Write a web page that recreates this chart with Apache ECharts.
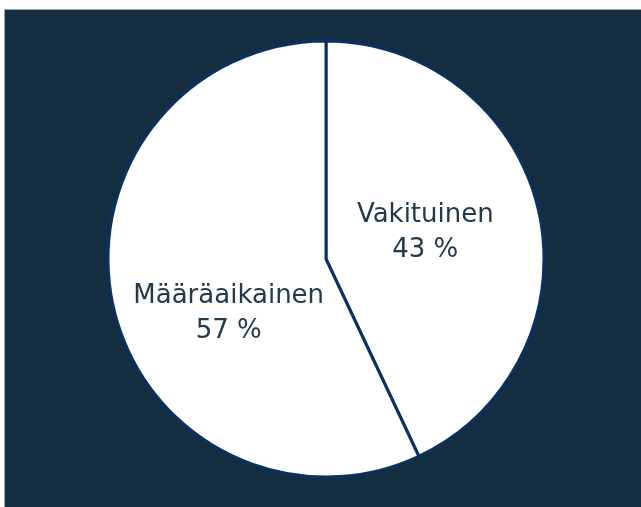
<!DOCTYPE html>
<html>
<head>
<meta charset="utf-8">
<script src="https://cdn.jsdelivr.net/npm/echarts@6/dist/echarts.min.js"></script>
<style>
  html, body { margin: 0; padding: 0; background: #fff; }
  #chart {
    position: absolute;
    left: 4px;
    top: 9px;
    width: 637px;
    height: 498px;
    background: #142d40;
    border-left: 1px solid #9aa6b0;
    border-top: 1px solid #9aa6b0;
    box-sizing: border-box;
  }
</style>
</head>
<body>
<div id="chart"></div>
<script>
var categories = ['Vakituinen', 'Määräaikainen']
var shares = [43, 57]

// label nudges to match the original placement
var labelShift = [[-10, -2], [12, 30]]

var chart = echarts.init(document.getElementById('chart'))
chart.setOption({
  animation: false,
  series: [
    {
      type: 'pie',
      center: [321, 249],
      radius: 218,
      startAngle: 90,
      clockwise: true,
      itemStyle: {
        color: '#ffffff',
        borderColor: '#0b3163',
        borderWidth: 3
      },
      label: {
        show: true,
        position: 'inside',
        formatter: function (p) {
          return p.name + '\n' + p.value + ' %'
        },
        color: '#223a4c',
        fontFamily: 'DejaVu Sans',
        fontSize: 26,
        lineHeight: 35
      },
      labelLine: { show: false },
      labelLayout: function (params) {
        var s = labelShift[params.dataIndex]
        return { dx: s[0], dy: s[1] }
      },
      emphasis: { disabled: true },
      data: categories.map(function (c, i) {
        return { name: c, value: shares[i] }
      })
    }
  ]
})
</script>
</body>
</html>
